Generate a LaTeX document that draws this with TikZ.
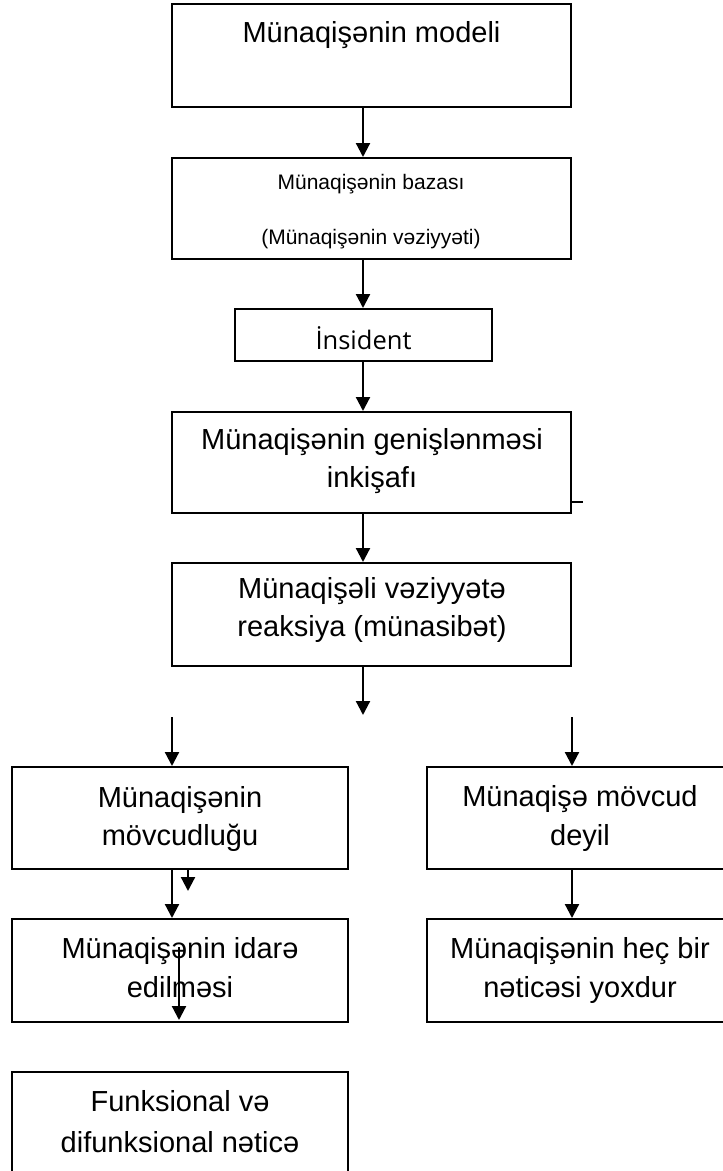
\documentclass[tikz,border=0pt]{standalone}
\usepackage{fontspec}
\setmainfont{Liberation Sans}
\newfontfamily\insfont{Open Sans}
\usetikzlibrary{arrows.meta}

\begin{document}
\begin{tikzpicture}[x=1pt,y=-1pt,
  box/.style={draw=black, line width=2pt, inner sep=0pt, rectangle},
  lbl/.style={anchor=base, inner sep=0pt, font=\fontsize{29}{35}\selectfont},
  small/.style={anchor=base, inner sep=0pt, font=\fontsize{21}{25}\selectfont},
  arr/.style={line width=2.2pt, -{Triangle[length=14pt,width=14pt]}},
]
\path[use as bounding box] (0,0) rectangle (723,1171);
\clip (0,0) rectangle (723,1171);

% boxes
\node[box, minimum width=399pt, minimum height=103pt] (b1) at (371.5,55.5) {};
\node[box, minimum width=399pt, minimum height=101pt] (b2) at (371.5,208.5) {};
\node[box, minimum width=257pt, minimum height=52pt] (ins) at (363.5,335) {};
\node[box, minimum width=399pt, minimum height=101pt] (b4) at (371.5,462.5) {};
\node[box, minimum width=399pt, minimum height=103pt] (b5) at (371.5,614.5) {};
\node[box, minimum width=336pt, minimum height=102pt] (L1) at (180,818) {};
\node[box, minimum width=336pt, minimum height=103pt] (L2) at (180,970.5) {};
\node[box, minimum width=336pt, minimum height=118pt] (L3) at (180,1131) {};
\node[box, minimum width=306pt, minimum height=102pt] (R1) at (580,818) {};
\node[box, minimum width=306pt, minimum height=103pt] (R2) at (580,970.5) {};

% texts
\node[lbl] (t1) at (371.5,42) {Münaqişənin modeli};
\node[small] (t2a) at (371,189) {Münaqişənin bazası};
\node[small] (t2b) at (371,244) {(Münaqişənin vəziyyəti)};
\node[anchor=base, inner sep=0pt, font=\insfont\fontsize{25.5}{30}\selectfont] (t3) at (363.5,349) {İnsident};
\node[lbl] (t4a) at (372,449) {Münaqişənin genişlənməsi};
\node[lbl] (t4b) at (372,487) {inkişafı};
\node[lbl] (t5a) at (372,598) {Münaqişəli vəziyyətə};
\node[lbl] (t5b) at (372,636) {reaksiya (münasibət)};
\node[lbl] (l1a) at (180,807) {Münaqişənin};
\node[lbl] (l1b) at (180,845) {mövcudluğu};
\node[lbl] (l2a) at (180,958) {Münaqişənin idarə};
\node[lbl] (l2b) at (180,997) {edilməsi};
\node[lbl] (l3a) at (180,1111) {Funksional və};
\node[lbl] (l3b) at (180,1152) {difunksional nəticə};
\node[lbl] (r1a) at (580,806) {Münaqişə mövcud};
\node[lbl] (r1b) at (580,845) {deyil};
\node[lbl] (r2a) at (580,958) {Münaqişənin heç bir};
\node[lbl] (r2b) at (580,997) {nəticəsi yoxdur};

% guide coordinates
\coordinate (sx) at (363,0);
\coordinate (e5) at (363,715);
\coordinate (lx) at (172,0);
\coordinate (ls) at (172,717);
\coordinate (rx) at (572,0);
\coordinate (rs) at (572,717);
\coordinate (kx) at (188,891);
\coordinate (ix0) at (179,947);
\coordinate (ix1) at (179,1020);
\coordinate (tk) at (583,502);

% connectors
\draw[arr] (b1.south -| sx) -- (b2.north -| sx);
\draw[arr] (b2.south -| sx) -- (ins.north -| sx);
\draw[arr] (ins.south -| sx) -- (b4.north -| sx);
\draw[arr] (b4.south -| sx) -- (b5.north -| sx);
\draw[arr] (b5.south -| sx) -- (e5);
\draw[arr] (ls) -- (L1.north -| ls);
\draw[arr] (L1.south -| lx) -- (L2.north -| lx);
\draw[arr] (L1.south -| kx) -- (kx);
\draw[arr] (ix0) -- (ix1);
\draw[arr] (rs) -- (R1.north -| rs);
\draw[arr] (R1.south -| rx) -- (R2.north -| rx);
\draw[line width=1.2pt] (b4.east |- tk) -- (tk);
\end{tikzpicture}
\end{document}
